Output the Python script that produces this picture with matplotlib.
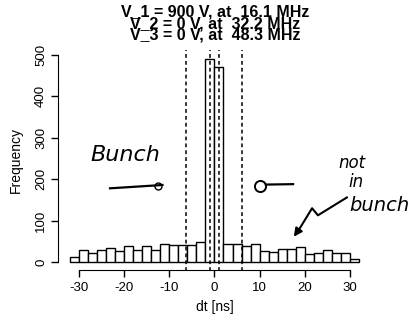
import matplotlib
matplotlib.use("Agg")
import matplotlib.pyplot as plt
import numpy as np

plt.rcParams['font.family'] = ['Liberation Sans', 'DejaVu Sans']
plt.rcParams['axes.unicode_minus'] = False

# histogram of dt, 2 ns bins from -32 to 32
bin_edges = np.arange(-32, 34, 2)
counts = [13, 29, 23, 30, 35, 27, 39, 30, 39, 29, 45, 41, 42, 42, 49, 490,
          470, 45, 43, 38, 45, 27, 25, 31, 31, 37, 21, 23, 29, 22, 22, 9]
cut_lines = [-6.2, -0.9, 1.0, 6.2]
title_lines = ["V_1 = 900 V, at  16.1 MHz",
               "V_2 = 0 V, at  32.2 MHz",
               "V_3 = 0 V, at  48.3 MHz"]
xticks = [-30, -20, -10, 0, 10, 20, 30]
yticks = [0, 100, 200, 300, 400, 500]

fig = plt.figure(figsize=(4.1, 3.2), dpi=100)
ax = fig.add_axes([0.142, 0.155, 0.762, 0.687])

ax.bar(bin_edges[:-1], counts, width=2, align='edge', color='white',
       edgecolor='black', linewidth=1.0)

for xv in cut_lines:
    ax.plot([xv, xv], [-22, 512], color='black', linestyle=(0, (2.5, 2)),
            linewidth=1.1, clip_on=False)

ax.set_xlim(-34.56, 34.56)
ax.set_ylim(-19.6, 509.6)
ax.set_xticks(xticks)
ax.set_yticks(yticks)
ax.set_yticklabels([str(v) for v in yticks], rotation=90, va='center')
ax.tick_params(labelsize=9.5, length=5, width=1, pad=3)
for s in ['top', 'right']:
    ax.spines[s].set_visible(False)
ax.spines['bottom'].set_bounds(-30, 30)
ax.spines['left'].set_bounds(0, 500)
ax.set_xlabel("dt [ns]", fontsize=10, labelpad=5)
ax.set_ylabel("Frequency", fontsize=10, labelpad=9)

# three-line title, tightly stacked like R
for i, line in enumerate(title_lines):
    fig.text(0.525, 0.962 - i * 0.036, line, ha='center', va='center',
             fontsize=11.5, fontweight='bold')

# handwritten notes
ax.text(-19.8, 257, "Bunch", fontsize=16, style='italic', ha='center',
        va='center', family='DejaVu Sans')
ax.plot([-23.1, -11.5], [178, 186], color='black', linewidth=1.6, clip_on=False)
ax.plot([-12.5], [183], marker='o', markersize=5, markerfacecolor='none',
        markeredgecolor='black', clip_on=False)
ax.plot([10.1], [183], marker='o', markersize=8, markerfacecolor='none',
        markeredgecolor='black', markeredgewidth=1.4, clip_on=False)
ax.plot([11.4, 17.4], [187, 188], color='black', linewidth=1.6, clip_on=False)

ax.text(30.4, 240, "not", fontsize=12, style='italic', ha='center',
        va='center', family='DejaVu Sans')
ax.text(31.3, 192, "in", fontsize=12, style='italic', ha='center',
        va='center', family='DejaVu Sans')
ax.text(36.6, 137, "bunch", fontsize=14, style='italic', ha='center',
        va='center', family='DejaVu Sans')
sq_x = [29.3, 22.9, 21.6, 18.9]
sq_y = [156, 113, 130, 82]
ax.plot(sq_x, sq_y, color='black', linewidth=1.5, clip_on=False)
ax.annotate("", xy=(17.2, 56), xytext=(18.9, 82),
            arrowprops=dict(arrowstyle='-|>', color='black', lw=1.5,
                            mutation_scale=12))

fig.savefig("out.png", dpi=100)
